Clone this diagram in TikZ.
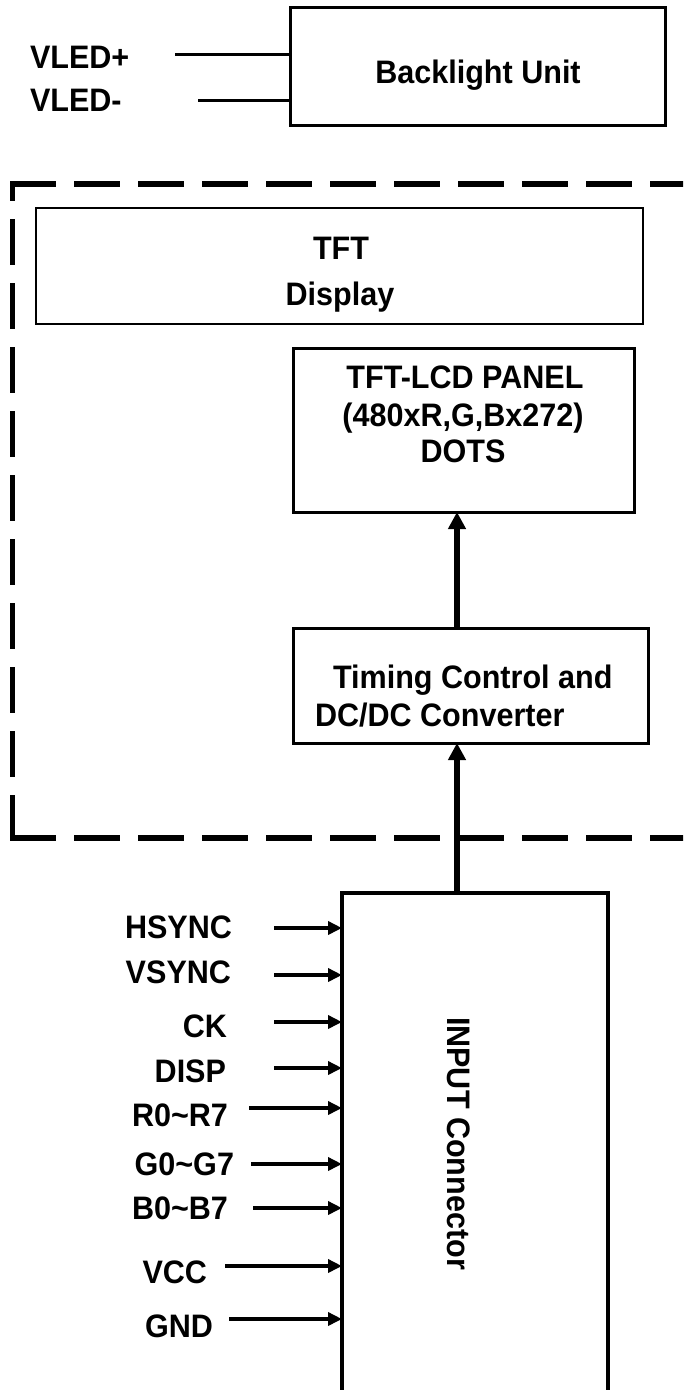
\documentclass[tikz,border=0pt]{standalone}
\usepackage{fontspec}
\setmainfont{Liberation Sans}[FakeStretch=0.94]
\usetikzlibrary{arrows.meta}
\begin{document}
\begin{tikzpicture}[x=1pt,y=-1pt,
  box/.style={draw, line width=3pt, inner sep=0pt, outer sep=0pt},
  lbl/.style={font=\fontsize{32.5}{38}\selectfont\bfseries, inner sep=0pt, outer sep=0pt},
  sig/.style={line width=4pt, -{Triangle[length=14pt,width=13pt]}},
  bigarr/.style={line width=6pt, -{Triangle[length=17pt,width=17pt]}},
  wire/.style={line width=3pt},
  dframe/.style={line width=5.5pt, line cap=rect, dash pattern=on 40.5pt off 23.5pt}
]
\useasboundingbox (0,0) rectangle (683,1390);
\clip (0,0) rectangle (683,1390);

% Backlight unit
\node[box, minimum width=375pt, minimum height=118pt] (blu) at (477.5,66) {};
\node[lbl, anchor=base] (blut) at (478,83) {Backlight Unit};
\node[lbl, anchor=base west] (vlp) at (30,68) {VLED+};
\node[lbl, anchor=base west] (vlm) at (30,111) {VLED-};
\coordinate (vlpe) at (175,54);
\coordinate (vlme) at (198,100);
\draw[wire] (vlpe) -- (vlpe -| blu.west);
\draw[wire] (vlme) -- (vlme -| blu.west);

% Dashed frame
\draw[dframe] (12.5,838) -- (12.5,184);
\draw[dframe] (12.5,184) -- (720,184);
\draw[dframe] (12.5,838) -- (720,838);

% TFT Display
\node[box, line width=2pt, minimum width=607pt, minimum height=116pt] (disp) at (339.5,266) {};
\node[lbl, anchor=base] (tft) at (341,259) {TFT};
\node[lbl, anchor=base] (dispt) at (340,305) {Display};

% Panel
\node[box, minimum width=341pt, minimum height=164pt] (pan) at (463.5,430) {};
\node[lbl, anchor=base] (p1) at (465,388) {TFT-LCD PANEL};
\node[lbl, anchor=base] (p2) at (463,426) {(480xR,G,Bx272)};
\node[lbl, anchor=base] (p3) at (463,462) {DOTS};

% Timing control
\node[box, minimum width=355pt, minimum height=115pt] (tim) at (470.5,685.5) {};
\node[lbl, anchor=base west] (t1) at (333,688) {Timing Control and};
\node[lbl, anchor=base west] (t2) at (315,726) {DC/DC Converter};

% Input connector
\node[box, line width=4pt, minimum width=266pt, minimum height=567pt] (inp) at (475,1176.5) {};
\node[lbl, rotate=-90] (inpt) at (458.5,1143.5) {INPUT Connector};

\coordinate (ax) at (457,600);
\draw[bigarr] (tim.north -| ax) -- (pan.south -| ax);
\draw[bigarr] (inp.north -| ax) -- (tim.south -| ax);

% Signals
\foreach \n/\t/\tx/\ty/\sx/\sy in {
  hs/HSYNC/232/938/274/928,
  vs/VSYNC/231/983/274/975,
  ck/CK/227/1037/274/1022,
  dp/DISP/226/1082/274/1068,
  rr/R0\textasciitilde R7/228/1126/249/1108,
  gg/G0\textasciitilde G7/234/1175/251/1164,
  bb/B0\textasciitilde B7/228/1219/253/1208,
  vc/VCC/207/1283/225/1266,
  gn/GND/213/1337/229/1319} {
  \node[lbl, anchor=base east] (\n) at (\tx,\ty) {\t};
  \coordinate (\n a) at (\sx,\sy);
  \draw[sig] (\n a) -- (\n a -| inp.west);
}
\end{tikzpicture}
\end{document}
